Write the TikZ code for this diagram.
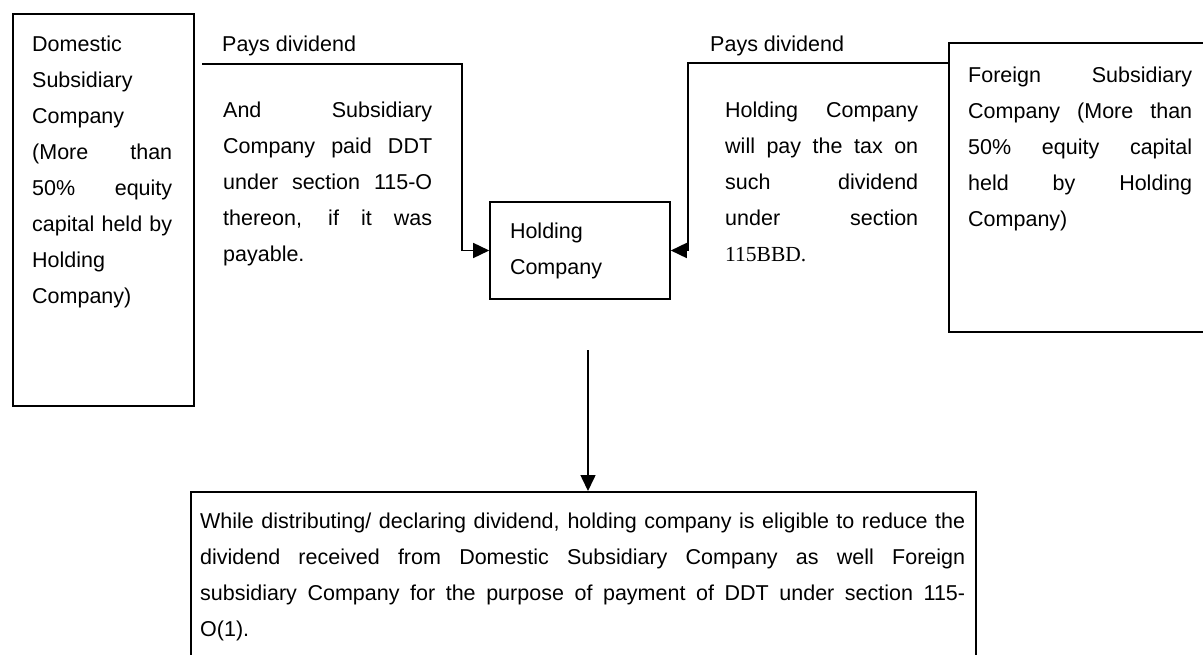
\documentclass[tikz,border=0pt]{standalone}
\usepackage{fontspec}
\setmainfont{Liberation Sans}
\newfontfamily\sectfont{Liberation Serif}
\usetikzlibrary{arrows.meta,positioning,calc}
\tolerance=10000
\hbadness=10000
\hyphenpenalty=10000
\exhyphenpenalty=10000

\begin{document}
\begin{tikzpicture}[x=1pt, y=-1pt,
    font=\fontsize{21.5}{36}\selectfont,
    frame/.style={draw, line width=1.6pt, inner sep=0pt},
    bodytext/.style={anchor=north west, inner sep=0pt, align=justify},
    flowline/.style={line width=1.6pt, -{Triangle[length=16pt, width=15pt]}}]
  \useasboundingbox (0,0) rectangle (1203,655);
  \clip (0,0) rectangle (1203,655);

  % the four boxes
  \node[frame, anchor=north west, minimum width=181pt, minimum height=392pt]
    (domestic) at (12,13) {};
  \node[frame, anchor=north west, minimum width=270pt, minimum height=289pt]
    (foreign) at (948,42) {};
  \node[frame, minimum width=180pt, minimum height=97pt, text width=140pt, align=left]
    (holding) at (580,250.5) {Holding\\Company};
  \node[frame, anchor=north west, minimum width=785pt, minimum height=200pt]
    (outcome) at (190,491) {};

  % texts in the boxes
  \node[bodytext, text width=140pt] (domestictext) at ($(domestic.north west)+(20,13.5)$)
    {\strut Domestic\linebreak Subsidiary\linebreak Company\linebreak (More than\linebreak
     50\% equity\linebreak capital held by\linebreak Holding\linebreak Company)};
  \node[bodytext, text width=224pt] (foreigntext) at ($(foreign.north west)+(20,15.5)$)
    {\strut Foreign Subsidiary\linebreak Company (More than\linebreak 50\% equity capital\linebreak
     held by Holding\linebreak Company)};
  \node[bodytext, text width=765pt] (outcometext) at ($(outcome.north west)+(10,12.5)$)
    {\strut While distributing/ declaring dividend, holding company is eligible to reduce the\linebreak
     dividend received from Domestic Subsidiary Company as well Foreign\linebreak
     subsidiary Company for the purpose of payment of DDT under section 115-\linebreak
     O(1).};

  % notes beside the dividend lines
  \node[anchor=base west, inner sep=0pt] (lpay) at (222,51.7) {Pays dividend};
  \node[anchor=base west, inner sep=0pt] (rpay) at (710,51.7) {Pays dividend};
  \node[bodytext, text width=209pt] (lnote) at (223,92.5)
    {\strut And Subsidiary\linebreak Company paid DDT\linebreak under section 115-O\linebreak
     thereon, if it was\linebreak payable.};
  \node[bodytext, text width=193pt] (rnote) at (725,92.5)
    {\strut Holding Company\linebreak will pay the tax on\linebreak such dividend\linebreak
     under section\linebreak {\sectfont 115BBD.}};

  % dividend flows
  \coordinate (lstart) at (202,64);
  \coordinate (lbend) at (462,64);
  \draw[flowline] (lstart) -- (lbend) |- (holding.west);

  \coordinate (rbend) at (688,63);
  \draw[flowline] (foreign.west |- rbend) -- (rbend) |- (holding.east);

  \coordinate (dropstart) at (588,350);
  \draw[flowline] (dropstart) -- (dropstart |- outcome.north);
\end{tikzpicture}
\end{document}
